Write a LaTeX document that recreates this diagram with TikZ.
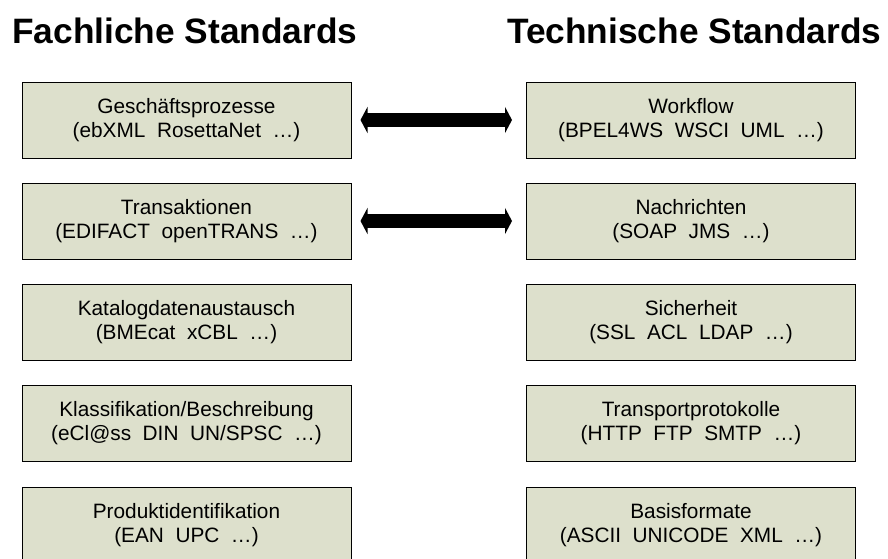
\documentclass[tikz,border=0pt]{standalone}
\usepackage{fontspec}
\setmainfont{Liberation Sans}
\usetikzlibrary{arrows.meta}

\definecolor{boxfill}{RGB}{221,224,204}

\tikzset{
  stdbox/.style={draw=black, line width=1pt, fill=boxfill,
    minimum width=329pt, minimum height=76pt, inner sep=0pt,
    align=center, font=\fontsize{20.8}{23.5}\selectfont},
  coltitle/.style={anchor=base west, inner sep=0pt,
    font=\fontsize{35.3}{40}\selectfont\bfseries},
  bigarrow/.style={line width=14pt, black,
    {Triangle[length=7pt,width=26pt]}-{Triangle[length=7pt,width=26pt]},
    shorten <=9pt, shorten >=14pt},
}

\newcommand{\gap}{\ \ }

\begin{document}
\begin{tikzpicture}[x=1pt, y=-1pt]
  \useasboundingbox (0,0) rectangle (888,558);
  \clip (0,0) rectangle (888,558);

  % column headings
  \node[coltitle] (tl) at (12,43) {Fachliche Standards};
  \node[coltitle] (tr) at (507,43) {Technische Standards};

  % business standards (left column)
  \node[stdbox] (l1) at (186.5,120) {Geschäftsprozesse\\(ebXML\gap RosettaNet\gap …)};
  \node[stdbox] (l2) at (186.5,221) {Transaktionen\\(EDIFACT\gap openTRANS\gap …)};
  \node[stdbox] (l3) at (186.5,322) {Katalogdatenaustausch\\(BMEcat\gap xCBL\gap …)};
  \node[stdbox] (l4) at (186.5,423) {Klassifikation/Beschreibung\\(eCl@ss\gap DIN\gap UN/SPSC\gap …)};
  \node[stdbox] (l5) at (186.5,525) {Produktidentifikation\\(EAN\gap UPC\gap …)};

  % technical standards (right column)
  \node[stdbox] (r1) at (691,120) {Workflow\\(BPEL4WS\gap WSCI\gap UML\gap …)};
  \node[stdbox] (r2) at (691,221) {Nachrichten\\(SOAP\gap JMS\gap …)};
  \node[stdbox] (r3) at (691,322) {Sicherheit\\(SSL\gap ACL\gap LDAP\gap …)};
  \node[stdbox] (r4) at (691,423) {Transportprotokolle\\(HTTP\gap FTP\gap SMTP\gap …)};
  \node[stdbox] (r5) at (691,525) {Basisformate\\(ASCII\gap UNICODE\gap XML\gap …)};

  % correspondences between the two columns
  \draw[bigarrow, yshift=-2pt] (l1.east) -- (r1.west);
  \draw[bigarrow, yshift=-1pt] (l2.east) -- (r2.west);
\end{tikzpicture}
\end{document}
